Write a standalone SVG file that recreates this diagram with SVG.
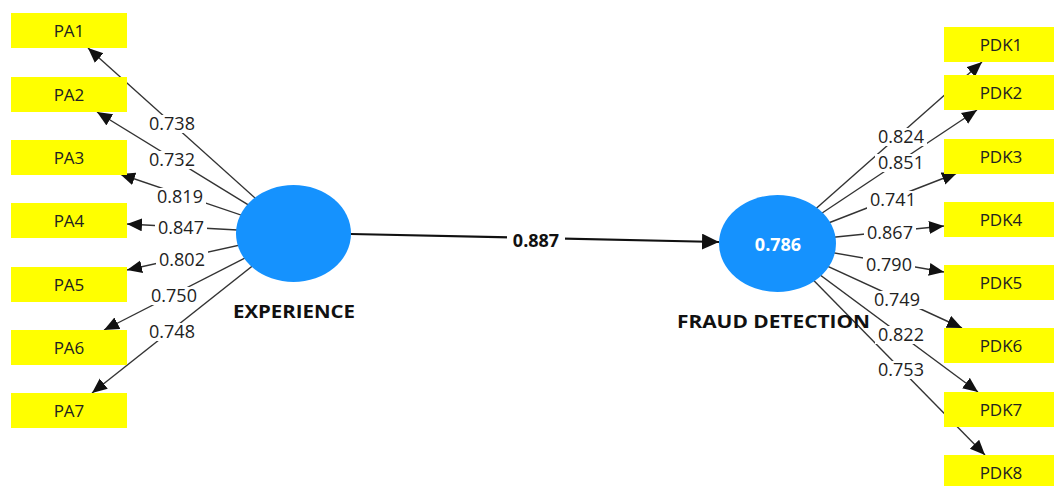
<svg xmlns="http://www.w3.org/2000/svg" width="1054" height="486" viewBox="0 0 1054 486">
<defs>
<marker id="ah" markerUnits="userSpaceOnUse" markerWidth="16" markerHeight="14" refX="15" refY="6.5" orient="auto">
<path d="M0,0 L15,6.5 L0,13 z" fill="#111"/>
</marker>
<marker id="ahm" markerUnits="userSpaceOnUse" markerWidth="18" markerHeight="16" refX="17" refY="8" orient="auto">
<path d="M0,0 L17,8 L0,16 z" fill="#111"/>
</marker>
<style>
.ln{stroke:#333;stroke-width:1.4;fill:none;marker-end:url(#ah)}
.main{stroke:#111;stroke-width:2.2;fill:none;marker-end:url(#ahm)}
.bg{fill:#fff}
.lbl{font-family:"Open Sans","Noto Sans",sans-serif;font-size:18px;fill:#222;text-anchor:middle}
.blbl{font-family:"Open Sans","Noto Sans",sans-serif;font-size:18px;font-weight:bold;fill:#111;text-anchor:middle}
.box{fill:#ffff00}
.bt{font-family:"Open Sans","Noto Sans",sans-serif;font-size:17px;fill:#222;text-anchor:middle}
.lv{fill:#1592fe}
.lvt{font-family:"Open Sans","Noto Sans",sans-serif;font-size:18px;font-weight:bold;fill:#111}
</style>
</defs>
<rect width="1054" height="486" fill="#fff"/>
<g id="connectors">
<line class="ln" x1="294" y1="233" x2="88" y2="48"/>
<line class="ln" x1="294" y1="233" x2="97" y2="112"/>
<line class="ln" x1="294" y1="233" x2="120" y2="174"/>
<line class="ln" x1="294" y1="233" x2="127" y2="224"/>
<line class="ln" x1="294" y1="233" x2="127" y2="270"/>
<line class="ln" x1="294" y1="233" x2="104" y2="330"/>
<line class="ln" x1="294" y1="233" x2="92" y2="393"/>
<line class="ln" x1="777" y1="243" x2="982" y2="62"/>
<line class="ln" x1="777" y1="243" x2="977" y2="110"/>
<line class="ln" x1="777" y1="243" x2="957" y2="173"/>
<line class="ln" x1="777" y1="243" x2="944" y2="226"/>
<line class="ln" x1="777" y1="243" x2="944" y2="272"/>
<line class="ln" x1="777" y1="243" x2="962" y2="328"/>
<line class="ln" x1="777" y1="243" x2="978" y2="392"/>
<line class="ln" x1="777" y1="243" x2="985" y2="455"/>
<line class="main" x1="351" y1="234" x2="719" y2="242"/>
<g>
<rect class="bg" x="146" y="115" width="52" height="18"/><text class="lbl" x="172" y="130">0.738</text>
<rect class="bg" x="146" y="151" width="52" height="18"/><text class="lbl" x="172" y="166">0.732</text>
<rect class="bg" x="154" y="188" width="52" height="18"/><text class="lbl" x="180" y="203">0.819</text>
<rect class="bg" x="155" y="219" width="52" height="18"/><text class="lbl" x="181" y="234">0.847</text>
<rect class="bg" x="156" y="251" width="52" height="18"/><text class="lbl" x="182" y="266">0.802</text>
<rect class="bg" x="148" y="287" width="52" height="18"/><text class="lbl" x="174" y="302">0.750</text>
<rect class="bg" x="146" y="323" width="52" height="18"/><text class="lbl" x="172" y="338">0.748</text>
<rect class="bg" x="875" y="128" width="52" height="18"/><text class="lbl" x="901" y="143">0.824</text>
<rect class="bg" x="875" y="154" width="52" height="18"/><text class="lbl" x="901" y="169">0.851</text>
<rect class="bg" x="867" y="191" width="52" height="18"/><text class="lbl" x="893" y="206">0.741</text>
<rect class="bg" x="864" y="224" width="52" height="18"/><text class="lbl" x="890" y="239">0.867</text>
<rect class="bg" x="863" y="256" width="52" height="18"/><text class="lbl" x="889" y="271">0.790</text>
<rect class="bg" x="871" y="291" width="52" height="18"/><text class="lbl" x="897" y="306">0.749</text>
<rect class="bg" x="875" y="326" width="52" height="18"/><text class="lbl" x="901" y="341">0.822</text>
<rect class="bg" x="875" y="361" width="52" height="18"/><text class="lbl" x="901" y="376">0.753</text>
<rect class="bg" x="507" y="231" width="58" height="19"/><text class="blbl" x="536" y="247">0.887</text>
</g>
</g>
<g id="EXPERIENCE">
<ellipse class="lv" cx="293.5" cy="233.5" rx="57.5" ry="48.5"/>
<text class="lvt" x="233" y="318" textLength="122" lengthAdjust="spacingAndGlyphs">EXPERIENCE</text>
</g>
<g id="FRAUD_DETECTION">
<ellipse class="lv" cx="777.5" cy="243.5" rx="58.5" ry="48.5"/>
<text x="778" y="251" text-anchor="middle" font-family="Open Sans, Noto Sans, sans-serif" font-size="18" font-weight="bold" fill="#fff">0.786</text>
<text class="lvt" x="677" y="328" textLength="193" lengthAdjust="spacingAndGlyphs">FRAUD DETECTION</text>
</g>
<g id="PA1"><rect class="box" x="11" y="13" width="116" height="35"/><text class="bt" x="69" y="37">PA1</text></g>
<g id="PA2"><rect class="box" x="11" y="77" width="116" height="35"/><text class="bt" x="69" y="101">PA2</text></g>
<g id="PA3"><rect class="box" x="11" y="140" width="116" height="35"/><text class="bt" x="69" y="164">PA3</text></g>
<g id="PA4"><rect class="box" x="11" y="203" width="116" height="35"/><text class="bt" x="69" y="227">PA4</text></g>
<g id="PA5"><rect class="box" x="11" y="267" width="116" height="35"/><text class="bt" x="69" y="291">PA5</text></g>
<g id="PA6"><rect class="box" x="11" y="330" width="116" height="35"/><text class="bt" x="69" y="354">PA6</text></g>
<g id="PA7"><rect class="box" x="11" y="393" width="116" height="35"/><text class="bt" x="69" y="417">PA7</text></g>
<g id="PDK1"><rect class="box" x="944" y="27" width="110" height="35"/><text class="bt" x="1001" y="51">PDK1</text></g>
<g id="PDK2"><rect class="box" x="944" y="75" width="110" height="35"/><text class="bt" x="1001" y="99">PDK2</text></g>
<g id="PDK3"><rect class="box" x="944" y="139" width="110" height="35"/><text class="bt" x="1001" y="163">PDK3</text></g>
<g id="PDK4"><rect class="box" x="944" y="202" width="110" height="35"/><text class="bt" x="1001" y="226">PDK4</text></g>
<g id="PDK5"><rect class="box" x="944" y="265" width="110" height="35"/><text class="bt" x="1001" y="289">PDK5</text></g>
<g id="PDK6"><rect class="box" x="944" y="328" width="110" height="35"/><text class="bt" x="1001" y="352">PDK6</text></g>
<g id="PDK7"><rect class="box" x="944" y="392" width="110" height="35"/><text class="bt" x="1001" y="416">PDK7</text></g>
<g id="PDK8"><rect class="box" x="944" y="455" width="110" height="35"/><text class="bt" x="1001" y="479">PDK8</text></g>
</svg>
